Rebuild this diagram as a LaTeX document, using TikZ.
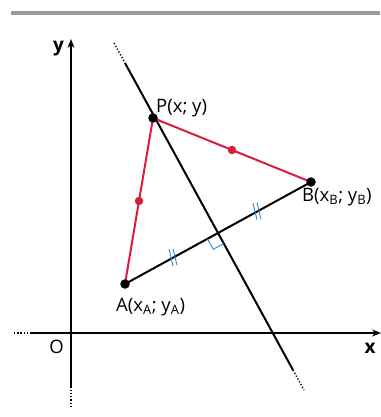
\documentclass[tikz,border=0pt]{standalone}
\usepackage{fontspec}
\setmainfont{Open Sans}
\usetikzlibrary{arrows.meta,calc}
\definecolor{redline}{HTML}{D81E3F}
\definecolor{bluemark}{HTML}{2A8BD2}
\definecolor{barcol}{HTML}{9A9A9A}
\tikzset{
  axis/.style={line width=1.4pt},
  dotpart/.style={line width=1.4pt,dash pattern=on 1.3pt off 1.9pt},
  blackline/.style={line width=2pt},
  redseg/.style={line width=2pt,draw=redline},
  ptdot/.style={fill=black,circle,inner sep=0pt,minimum size=9.5pt},
  reddot/.style={fill=redline,circle,inner sep=0pt,minimum size=8.5pt},
  tickmark/.style={draw=bluemark,line width=0.9pt},
  lbl/.style={font=\fontsize{18.5}{20}\selectfont,inner sep=0pt},
  axlbl/.style={font=\fontsize{19}{20}\selectfont\bfseries,inner sep=0pt}
}
\begin{document}
\begin{tikzpicture}[x=1pt,y=-1pt]
\useasboundingbox (0,0) rectangle (380,417);
\fill[barcol] (11,11) rectangle (380,15.5);
% points
\coordinate (A) at (125,284);
\coordinate (B) at (311,182);
\coordinate (P) at (153,118);
\coordinate (M) at (218,233);
\coordinate (T1) at (114,43);
\coordinate (T2) at (125,63);
\coordinate (U1) at (293,370);
\coordinate (U2) at (304,390);
% axes
\coordinate (Yb2) at (71,407);
\coordinate (Yb1) at (71,388);
\coordinate (Yt) at (71,39);
\coordinate (Xl2) at (14,333);
\coordinate (Xl1) at (30,333);
\coordinate (Xr) at (381,333);
\draw[dotpart] (Yb2) -- (Yb1);
\draw[axis,-{Stealth[length=9pt,width=7pt]}] (Yb1) -- (Yt);
\draw[dotpart] (Xl2) -- (Xl1);
\draw[axis,-{Stealth[length=9pt,width=7pt]}] (Xl1) -- (Xr);
\node[axlbl,anchor=base] (ylab) at (58.5,52) {y};
\node[axlbl,anchor=base] (xlab) at (370,353) {x};
\node[lbl,anchor=base] (O) at (56.5,353) {O};
% perpendicular bisector
\draw[dotpart] (T1) -- (T2);
\draw[blackline] (T2) -- (U1);
\draw[dotpart] (U1) -- (U2);
% segment AB
\draw[blackline] (A) -- (B);
% red triangle sides
\draw[redseg] (A) -- (P) -- (B);
% right angle marker
\draw[tickmark] ($(M)+(-10.5,5.8)$) -- ($(M)+(-4.7,16.3)$) -- ($(M)+(5.8,10.5)$);
% tick marks
\foreach \cx/\cy in {173/257.5,257/211.5}{
  \draw[tickmark] (\cx-4,\cy-8.3) -- (\cx,\cy+8.3);
  \draw[tickmark] (\cx,\cy-8.8) -- (\cx+4,\cy+7.8);
}
% dots
\node[reddot] (mPA) at ($(P)!0.5!(A)$) {};
\node[reddot] (mPB) at ($(P)!0.5!(B)$) {};
\node[ptdot] (dA) at (A) {};
\node[ptdot] (dB) at (B) {};
\node[ptdot] (dP) at (P) {};
% labels
\node[lbl,anchor=base west] (lP) at (156,113) {P(x; y)};
\node[lbl,anchor=base west] (lA) at (116,311) {A(x\textsubscript{A}; y\textsubscript{A})};
\node[lbl,anchor=base west] (lB) at (302,201) {B(x\textsubscript{B}; y\textsubscript{B})};
\end{tikzpicture}
\end{document}
